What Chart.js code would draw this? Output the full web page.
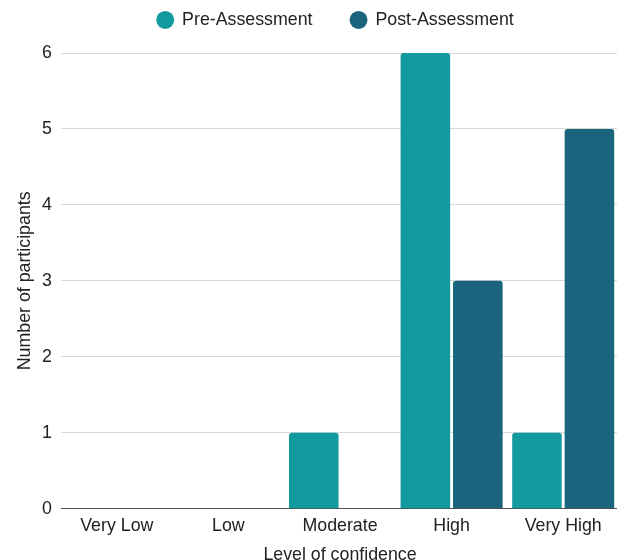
<!DOCTYPE html>
<html>
<head>
<meta charset="utf-8">
<script src="https://cdn.jsdelivr.net/npm/chart.js@4"></script>
<style>
  html, body { margin: 0; padding: 0; background: #ffffff; overflow: hidden; }
  #wrap { position: absolute; left: 0; top: 0; }
</style>
</head>
<body>
<div id="wrap"><canvas id="chart" width="619" height="570"></canvas></div>
<script>
// Confidence ratings before and after the session
const categories = ['Very Low', 'Low', 'Moderate', 'High', 'Very High'];
const preAssessment = [0, 0, 1, 6, 1];
const postAssessment = [0, 0, 0, 3, 5];
const yTickValues = [0, 1, 2, 3, 4, 5, 6];

const seriesNames = ['Pre-Assessment', 'Post-Assessment'];
const seriesColors = ['#139a9f', '#1a647d'];

const FONT = '"Liberation Sans", Arial, Helvetica, sans-serif';
const SIZE = 17.8;
const TEXT = '#222222';

// Extra room between the legend and the plot area, and a slight
// leftward nudge so the legend sits over the middle of the figure
const legendSpacing = {
  id: 'legendSpacing',
  beforeInit(chart) {
    const legend = chart.legend;
    if (!legend) return;
    const originalFit = legend.fit;
    legend.fit = function fit() {
      originalFit.call(this);
      this.height += 14.2;
    };
  },
  afterLayout(chart) {
    const legend = chart.legend;
    if (legend) legend.left -= 9;
  }
};

new Chart(document.getElementById('chart'), {
  type: 'bar',
  data: {
    labels: categories,
    datasets: [
      {
        label: seriesNames[0],
        data: preAssessment,
        backgroundColor: seriesColors[0],
        borderRadius: 3,
        categoryPercentage: 0.94,
        barPercentage: 0.945
      },
      {
        label: seriesNames[1],
        data: postAssessment,
        backgroundColor: seriesColors[1],
        borderRadius: 3,
        categoryPercentage: 0.94,
        barPercentage: 0.945
      }
    ]
  },
  plugins: [legendSpacing],
  options: {
    responsive: false,
    animation: false,
    layout: { padding: { top: -27, right: 0, bottom: 4.6, left: 0 } },
    plugins: {
      tooltip: { enabled: false },
      legend: {
        position: 'top',
        fullSize: false,
        labels: {
          usePointStyle: true,
          pointStyle: 'circle',
          boxWidth: 16,
          boxHeight: 12.7,
          padding: 38,
          color: TEXT,
          font: { family: FONT, size: SIZE }
        }
      }
    },
    scales: {
      x: {
        grid: { display: false, drawTicks: false },
        border: { display: true, color: '#555555', width: 1 },
        ticks: {
          padding: 6.3,
          color: TEXT,
          font: { family: FONT, size: SIZE }
        },
        title: {
          display: true,
          text: 'Level of confidence',
          color: TEXT,
          font: { family: FONT, size: SIZE },
          padding: { top: 1.4, bottom: 0 }
        }
      },
      y: {
        min: yTickValues[0],
        max: yTickValues[yTickValues.length - 1],
        afterFit: (scale) => { scale.width = 61; },
        afterBuildTicks: (scale) => {
          scale.ticks = yTickValues.map(v => ({ value: v }));
        },
        grid: {
          drawTicks: false,
          lineWidth: 1,
          color: (ctx) => (ctx.tick && ctx.tick.value === 0 ? '#555555' : '#d9d9d9')
        },
        border: { display: false },
        ticks: {
          padding: 9,
          color: TEXT,
          font: { family: FONT, size: SIZE }
        },
        title: {
          display: true,
          text: 'Number of participants',
          color: TEXT,
          font: { family: FONT, size: SIZE },
          padding: { top: 14, bottom: 0 }
        }
      }
    }
  }
});
</script>
</body>
</html>
